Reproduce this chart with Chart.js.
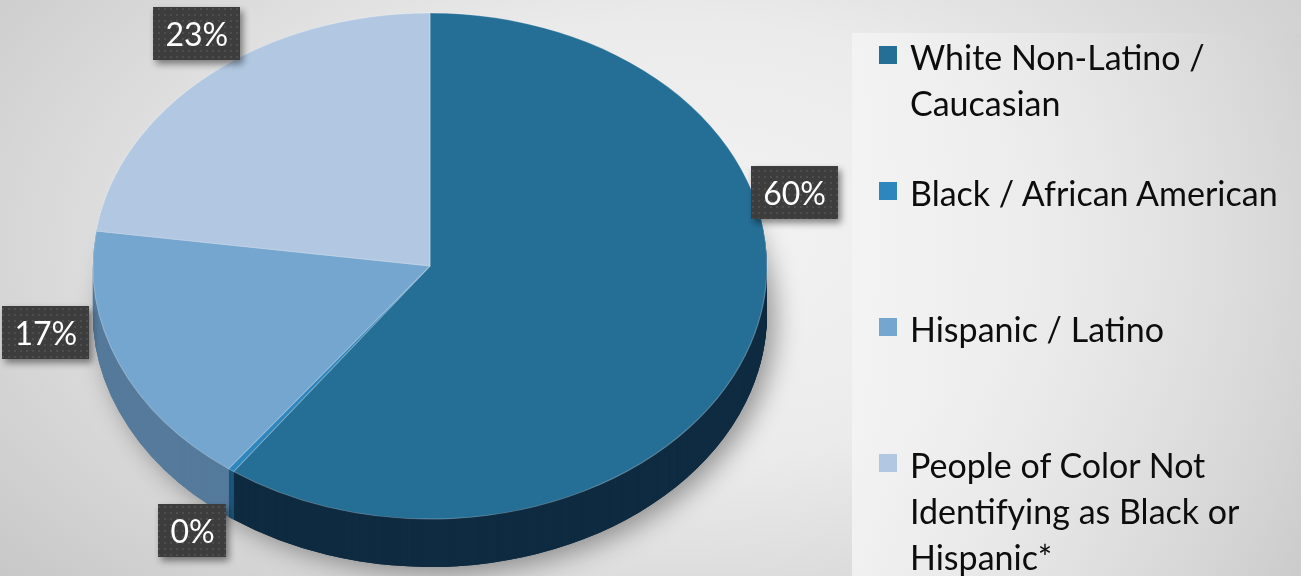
<!DOCTYPE html>
<html>
<head>
<meta charset="utf-8">
<script src="https://cdn.jsdelivr.net/npm/chart.js@4.4.1/dist/chart.umd.min.js"></script>
<style>
  html, body { margin: 0; padding: 0; }
  body {
    width: 1301px; height: 576px; overflow: hidden; position: relative;
    background: radial-gradient(ellipse 72% 95% at 52% 42%, #f3f3f3 0%, #ebebeb 40%, #c4c4c4 100%);
    font-family: Lato, "Open Sans", sans-serif;
  }
  #chart { position: absolute; left: 0; top: 0; }
  #legendPanel {
    position: absolute; left: 852px; top: 33px; right: 0; bottom: 0;
    background: linear-gradient(90deg, rgba(244,244,244,0.85) 0%, rgba(230,230,230,0.5) 60%, rgba(205,205,205,0.3) 100%);
  }
  .item { position: absolute; left: 879px; }
  .swatch { position: absolute; left: 0; top: 12px; width: 18px; height: 18px; }
  .text {
    position: absolute; left: 31px; top: 0; white-space: nowrap;
    font-size: 34px; line-height: 46px; color: #0d0d0d;
  }
</style>
</head>
<body>
<div id="legendPanel"></div>
<canvas id="chart" width="1301" height="576"></canvas>
<div id="legend"></div>
<script>
// Ethnic composition (percent of total)
const categories = [
  ["White Non-Latino /", "Caucasian"],
  ["Black / African American"],
  ["Hispanic / Latino"],
  ["People of Color Not", "Identifying as Black or", "Hispanic*"]
];
const shares = [59.9, 0.3, 17.0, 22.8];
const topColors = ["#256f97", "#2e86bf", "#74a6d0", "#b2c8e2"];
const sideColors = ["#0f2b41", "#1c5478", "#557a9b", "#7d92aa"];

// Where each value label sits: degrees clockwise from 12 o'clock, and reach relative to the rim
const labelAngles = [75, 214, 257, 323];
const labelReach = [1.12, 1.26, 1.17, 1.15];

// Tilted disc geometry on the page
const disc = { cx: 430, cy: 266, rx: 337, ry: 253, depth: 48 };

// Dotted fill used behind the value labels
function dottedPattern(ctx) {
  const c = document.createElement("canvas");
  c.width = 6; c.height = 6;
  const p = c.getContext("2d");
  p.fillStyle = "#3d3d3d";
  p.fillRect(0, 0, 6, 6);
  p.fillStyle = "#4e4e4e";
  p.fillRect(2, 2, 2, 2);
  return ctx.createPattern(c, "repeat");
}

const tiltedPie = {
  id: "tiltedPie",
  beforeDatasetsDraw(chart) {
    const ctx = chart.ctx;
    const arcs = chart.getDatasetMeta(0).data;
    if (!arcs.length) return;
    const { x: x0, y: y0, outerRadius: R } = arcs[0];
    const project = () => {
      ctx.translate(disc.cx, disc.cy);
      ctx.scale(disc.rx / R, disc.ry / R);
      ctx.translate(-x0, -y0);
    };
    const drawSide = (el, i) => {
      const ghost = Object.create(el);
      ghost.options = Object.assign({}, el.options, {
        backgroundColor: sideColors[i], borderWidth: 0
      });
      ghost.draw(ctx);
    };

    // soft drop shadow under the whole disc
    ctx.save();
    ctx.translate(0, disc.depth);
    ctx.shadowColor = "rgba(0,0,0,0.38)";
    ctx.shadowBlur = 26;
    ctx.shadowOffsetX = 8;
    ctx.shadowOffsetY = 6;
    project();
    arcs.forEach(drawSide);
    ctx.restore();

    // side wall: stacked copies of every slice, deepest first
    for (let d = disc.depth; d >= 1; d--) {
      ctx.save();
      ctx.translate(0, d);
      project();
      arcs.forEach(drawSide);
      ctx.restore();
    }

    // top face
    ctx.save();
    project();
    arcs.forEach(el => el.draw(ctx));
    ctx.restore();
    return false;
  },
  afterDraw(chart) {
    const ctx = chart.ctx;
    const values = chart.data.datasets[0].data;
    const total = values.reduce((a, b) => a + b, 0);
    const fill = dottedPattern(ctx);
    ctx.save();
    ctx.font = "32px Lato, 'Open Sans', sans-serif";
    ctx.textAlign = "center";
    ctx.textBaseline = "middle";
    values.forEach((v, i) => {
      const text = Math.round(v / total * 100) + "%";
      const a = (labelAngles[i] - 90) * Math.PI / 180;
      const px = disc.cx + disc.rx * labelReach[i] * Math.cos(a);
      const py = disc.cy + disc.ry * labelReach[i] * Math.sin(a);
      const w = ctx.measureText(text).width + 24;
      const h = 53;
      ctx.save();
      ctx.shadowColor = "rgba(0,0,0,0.45)";
      ctx.shadowBlur = 7;
      ctx.shadowOffsetX = 3;
      ctx.shadowOffsetY = 4;
      ctx.fillStyle = fill;
      ctx.fillRect(Math.round(px - w / 2), Math.round(py - h / 2), Math.round(w), h);
      ctx.restore();
      ctx.fillStyle = "#ffffff";
      ctx.fillText(text, px, py + 2);
    });
    ctx.restore();
  }
};

new Chart(document.getElementById("chart"), {
  type: "pie",
  data: {
    labels: categories.map(l => l.join(" ")),
    datasets: [{
      data: shares,
      backgroundColor: topColors,
      borderColor: "rgba(255,255,255,0.28)",
      borderWidth: 1
    }]
  },
  options: {
    responsive: false,
    animation: false,
    devicePixelRatio: 1,
    layout: { padding: { left: 92, right: 533, top: 0, bottom: 0 } },
    plugins: { legend: { display: false }, tooltip: { enabled: false } }
  },
  plugins: [tiltedPie]
});

// Legend
const legend = document.getElementById("legend");
categories.forEach((lines, i) => {
  const item = document.createElement("div");
  item.className = "item";
  item.style.top = (34 + i * 136) + "px";
  const sw = document.createElement("div");
  sw.className = "swatch";
  sw.style.background = topColors[i];
  const tx = document.createElement("div");
  tx.className = "text";
  lines.forEach((line, k) => {
    if (k) tx.appendChild(document.createElement("br"));
    tx.appendChild(document.createTextNode(line));
  });
  item.appendChild(sw);
  item.appendChild(tx);
  legend.appendChild(item);
});
</script>
</body>
</html>
